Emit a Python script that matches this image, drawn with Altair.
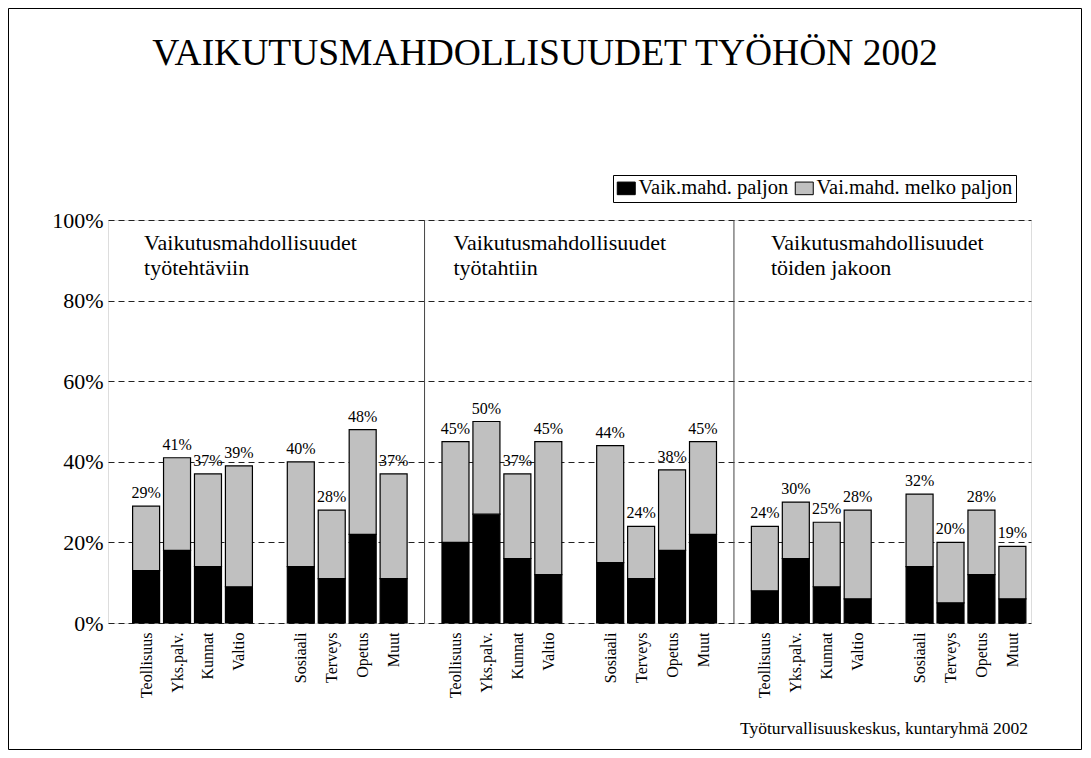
import altair as alt
import pandas as pd

# ---- data ----
categories = ['Teollisuus', 'Yks.palv.', 'Kunnat', 'Valtio',
              'Sosiaali', 'Terveys', 'Opetus', 'Muut']
panel_titles = ['Vaikutusmahdollisuudet\ntyötehtäviin',
                'Vaikutusmahdollisuudet\ntyötahtiin',
                'Vaikutusmahdollisuudet\ntöiden jakoon']
series_names = ['Vaik.mahd. paljon', 'Vai.mahd. melko paljon']

totals_tehtaviin = [29, 41, 37, 39, 40, 28, 48, 37]
totals_tahtiin = [45, 50, 37, 45, 44, 24, 38, 45]
totals_jakoon = [24, 30, 25, 28, 32, 20, 28, 19]

paljon_tehtaviin = [13, 18, 14, 9, 14, 11, 22, 11]
paljon_tahtiin = [20, 27, 16, 12, 15, 11, 18, 22]
paljon_jakoon = [8, 16, 9, 6, 14, 5, 12, 6]

title_text = 'VAIKUTUSMAHDOLLISUUDET TYÖHÖN 2002'
source_text = 'Työturvallisuuskeskus, kuntaryhmä 2002'

totals = [totals_tehtaviin, totals_tahtiin, totals_jakoon]
paljon = [paljon_tehtaviin, paljon_tahtiin, paljon_jakoon]

# ---- build tables ----
def slot(p, i):
    return p * 10 + i + (1 if i >= 4 else 0)

seg_rows, tot_rows = [], []
slot_labels = [''] * 29
for p in range(3):
    for i, c in enumerate(categories):
        k = slot(p, i)
        slot_labels[k] = c
        b = paljon[p][i]
        t = totals[p][i]
        seg_rows.append({'k': k, 'series': series_names[0], 'y0': 0, 'y1': b})
        seg_rows.append({'k': k, 'series': series_names[1], 'y0': b, 'y1': t})
        tot_rows.append({'k': k, 'total': t, 'label': f'{t}%'})
seg = pd.DataFrame(seg_rows)
tot = pd.DataFrame(tot_rows)
slot_values = [slot(p, i) for p in range(3) for i in range(8)]
panels = pd.DataFrame({'k': [0, 10, 20], 'title': panel_titles, 'p': [0, 1, 2]})
dividers = pd.DataFrame({'k': [9, 19]})

FONT = 'Liberation Serif'
W, H = 923, 403

label_array = '[' + ','.join("'" + s + "'" for s in slot_labels) + ']'
xaxis = alt.Axis(values=slot_values, labelExpr=f'{label_array}[datum.value]',
                 labelAngle=270, labelAlign='right', labelBaseline='middle',
                 labelPadding=9, labelFont=FONT, labelFontSize=16,
                 labelColor='black', labelOverlap=False, labelFlush=False,
                 labelBound=False, ticks=False, domain=False, grid=False,
                 title=None)
xscale = alt.Scale(domain=[-1.07, 28.44], nice=False, zero=False)
yaxis = alt.Axis(values=[0, 20, 40, 60, 80, 100], labelExpr="datum.value + '%'",
                 labelFont=FONT, labelFontSize=22, labelColor='black',
                 labelPadding=5, ticks=False, domain=False, grid=True,
                 gridDash=[6, 4], gridColor='#222222', gridWidth=1, title=None)
yscale = alt.Scale(domain=[0, 100], nice=False)

X = alt.X('k:Q', scale=xscale, axis=xaxis)

frame = alt.Chart(pd.DataFrame({'a': [1]})).mark_rect(
    filled=False, stroke='black', strokeWidth=1
).encode(x=alt.value(-99.5), x2=alt.value(W + 50.5),
         y=alt.value(-211.5), y2=alt.value(H + 126.5))

div = alt.Chart(dividers).mark_rule(color='#444444', strokeWidth=1).encode(
    x=X, y=alt.value(0), y2=alt.value(H))

bars = alt.Chart(seg).mark_bar(width=27, stroke='black', strokeWidth=1.2).encode(
    x=X,
    y=alt.Y('y0:Q', scale=yscale, axis=yaxis),
    y2='y1:Q',
    fill=alt.Fill('series:N',
                  scale=alt.Scale(domain=series_names, range=['#000000', '#C0C0C0']),
                  legend=alt.Legend(orient='none', legendX=505, legendY=-45,
                                    direction='horizontal', title=None,
                                    labelFont=FONT, labelFontSize=20.5, labelLimit=400,
                                    labelColor='black', labelOffset=2,
                                    symbolType='M-1,-0.7H1V0.7H-1Z', symbolSize=324,
                                    symbolStrokeColor='black', symbolStrokeWidth=1,
                                    columnPadding=4, padding=3, strokeColor='black',
                                    fillColor='white', cornerRadius=0)),
)

labels = alt.Chart(tot).mark_text(
    font=FONT, fontSize=16, color='black', baseline='alphabetic', dy=-8
).encode(x=X, y=alt.Y('total:Q', scale=yscale, axis=yaxis), text='label:N')

ptitles_a = alt.Chart(panels).transform_filter('datum.p < 2').mark_text(
    font=FONT, fontSize=22, color='black', align='left', baseline='alphabetic',
    lineBreak='\n', lineHeight=25, dx=-2
).encode(x=X, y=alt.value(30), text='title:N')

ptitles_b = alt.Chart(panels).transform_filter('datum.p == 2').mark_text(
    font=FONT, fontSize=22, color='black', align='left', baseline='alphabetic',
    lineBreak='\n', lineHeight=25, dx=6
).encode(x=X, y=alt.value(30), text='title:N')

title = alt.Chart(pd.DataFrame({'t': [title_text]})).mark_text(
    font=FONT, fontSize=37.5, color='black', align='center', baseline='alphabetic'
).encode(x=alt.value(437), y=alt.value(-155), text='t:N')

source = alt.Chart(pd.DataFrame({'t': [source_text]})).mark_text(
    font=FONT, fontSize=17.5, color='black', align='right', baseline='alphabetic'
).encode(x=alt.value(W - 3), y=alt.value(514), text='t:N')

chart = alt.layer(frame, div, bars, labels, ptitles_a, ptitles_b, title, source).properties(
    width=W, height=H,
    autosize=alt.AutoSizeParams(type='none'),
    padding={'left': 100, 'top': 212, 'right': 51, 'bottom': 127},
    background='white',
).configure_view(
    stroke='black', strokeWidth=1
).configure_legend(
    labelFont=FONT, labelFontSize=20.5, labelLimit=400
).configure(font=FONT)

chart.save('out.html', embed_options={'renderer': 'svg', 'actions': False})
